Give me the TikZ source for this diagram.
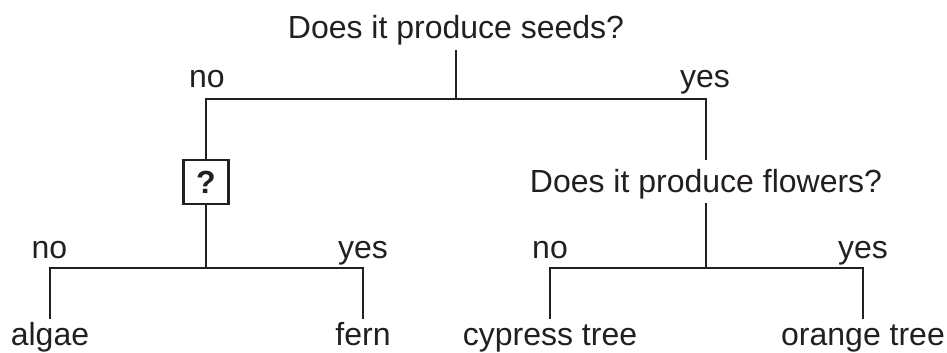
\documentclass[tikz,border=0pt]{standalone}
\usepackage{fontspec}
\setmainfont{Liberation Sans}
\definecolor{ink}{HTML}{231F20}
\begin{document}
\begin{tikzpicture}[x=1pt,y=-1pt,
  lbl/.style={font=\fontsize{32}{38}\selectfont, inner sep=0pt, anchor=base, text=ink},
  qbox/.style={draw=ink, line width=2.3pt, minimum width=45pt, minimum height=44pt, inner sep=0pt, text=ink, font=\fontsize{32}{38}\selectfont\bfseries},
  link/.style={draw=ink, line width=2.3pt}]
\useasboundingbox (0,0) rectangle (947,353);
% questions
\node[lbl] (q1) at (456,39) {Does it produce seeds?};
\node[lbl] (q2) at (706,192) {Does it produce flowers?};
\node[qbox] (qm) at (206,182) {?};
% branch labels
\node[lbl] (n1) at (207,87) {no};
\node[lbl] (y1) at (705,87) {yes};
\node[lbl] (n2) at (49.5,258) {no};
\node[lbl] (y2) at (363,258) {yes};
\node[lbl] (n3) at (550,258) {no};
\node[lbl] (y3) at (863,258) {yes};
% leaves
\node[lbl] (l1) at (50,345) {algae};
\node[lbl] (l2) at (363,345) {fern};
\node[lbl] (l3) at (550,345) {cypress tree};
\node[lbl] (l4) at (863,345) {orange tree};
% junctions
\coordinate (j1) at (456,99);
\coordinate (aL) at (206,99);
\coordinate (aR) at (706,99);
\coordinate (j2) at (206,268);
\coordinate (j3) at (706,268);
\coordinate (bL1) at (50,268);
\coordinate (bR1) at (363,268);
\coordinate (bL2) at (550,268);
\coordinate (bR2) at (863,268);
% connectors
\draw[link] ([yshift=-11pt]q1.base) -- (j1);
\draw[link] (qm.north) -- (aL) -- (aR) -- ([yshift=32pt]q2.base);
\draw[link] (qm.south) -- (j2);
\draw[link] ([yshift=-11pt]q2.base) -- (j3);
\draw[link] ([yshift=26pt]l1.base) -- (bL1) -- (bR1) -- ([yshift=26pt]l2.base);
\draw[link] ([yshift=26pt]l3.base) -- (bL2) -- (bR2) -- ([yshift=26pt]l4.base);
\end{tikzpicture}
\end{document}
